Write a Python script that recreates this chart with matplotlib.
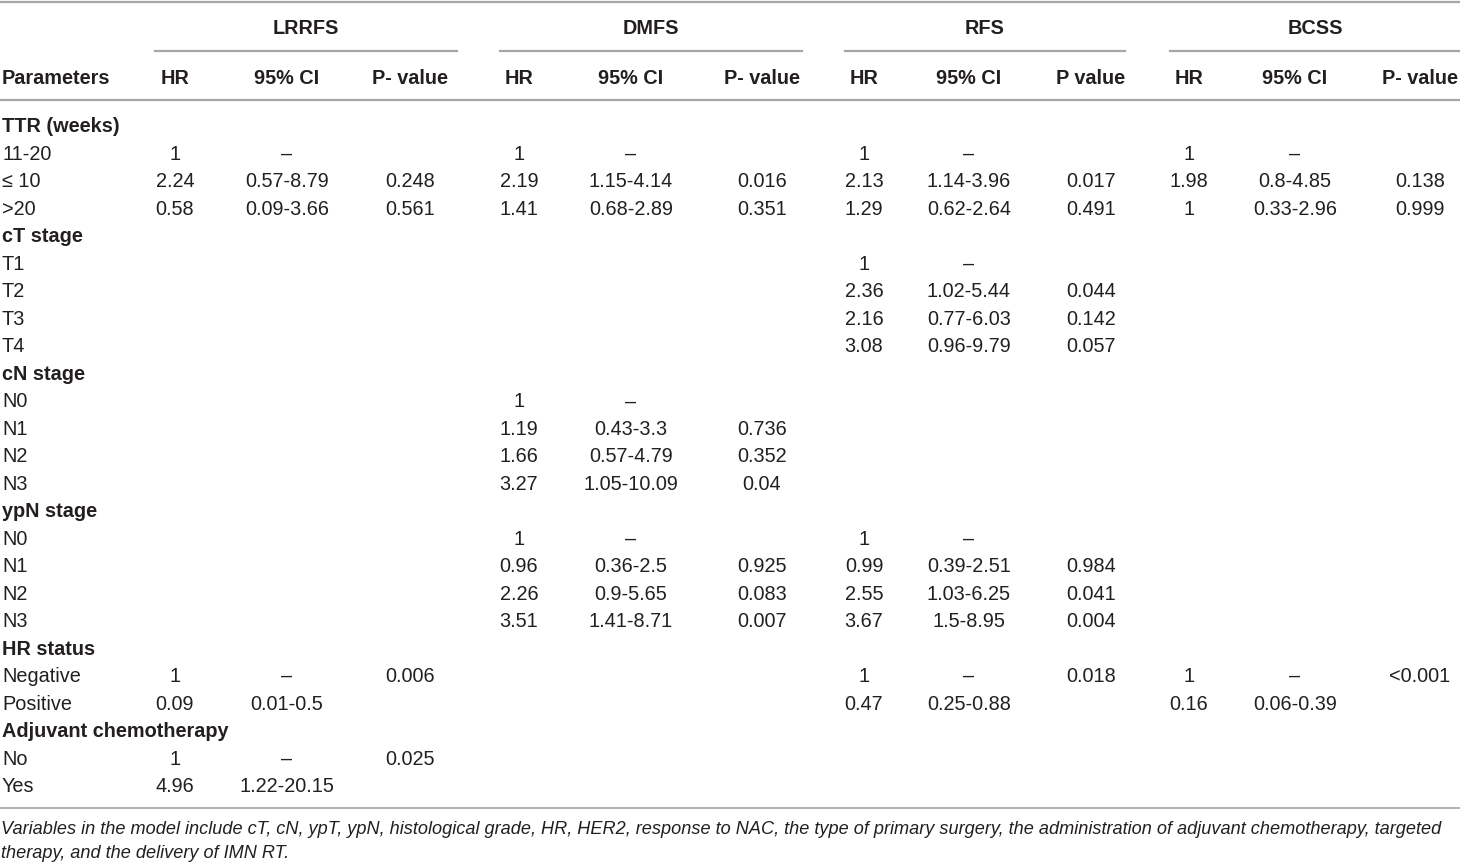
import matplotlib
matplotlib.use("Agg")
from matplotlib import pyplot as plt

plt.rcParams['font.family'] = ['Liberation Sans', 'DejaVu Sans']

# ---- table content ----
groups = ["LRRFS", "DMFS", "RFS", "BCSS"]
col_heads = {
    "LRRFS": ["HR", "95% CI", "P- value"],
    "DMFS": ["HR", "95% CI", "P- value"],
    "RFS": ["HR", "95% CI", "P value"],
    "BCSS": ["HR", "95% CI", "P- value"],
}

params = ["TTR (weeks)", "11-20", "\u2264 10", ">20",
          "cT stage", "T1", "T2", "T3", "T4",
          "cN stage", "N0", "N1", "N2", "N3",
          "ypN stage", "N0", "N1", "N2", "N3",
          "HR status", "Negative", "Positive",
          "Adjuvant chemotherapy", "No", "Yes"]
section = [1, 0, 0, 0,
           1, 0, 0, 0, 0,
           1, 0, 0, 0, 0,
           1, 0, 0, 0, 0,
           1, 0, 0,
           1, 0, 0]

D = "\u2013"
#                TTR                    cT                 cN                   ypN                  HR             Adj
lrrfs_hr = ["", "1", "2.24", "0.58", "", "", "", "", "", "", "", "", "", "", "", "", "", "", "", "", "1", "0.09", "", "1", "4.96"]
lrrfs_ci = ["", D, "0.57-8.79", "0.09-3.66", "", "", "", "", "", "", "", "", "", "", "", "", "", "", "", "", D, "0.01-0.5", "", D, "1.22-20.15"]
lrrfs_p = ["", "", "0.248", "0.561", "", "", "", "", "", "", "", "", "", "", "", "", "", "", "", "", "0.006", "", "", "0.025", ""]

dmfs_hr = ["", "1", "2.19", "1.41", "", "", "", "", "", "", "1", "1.19", "1.66", "3.27", "", "1", "0.96", "2.26", "3.51", "", "", "", "", "", ""]
dmfs_ci = ["", D, "1.15-4.14", "0.68-2.89", "", "", "", "", "", "", D, "0.43-3.3", "0.57-4.79", "1.05-10.09", "", D, "0.36-2.5", "0.9-5.65", "1.41-8.71", "", "", "", "", "", ""]
dmfs_p = ["", "", "0.016", "0.351", "", "", "", "", "", "", "", "0.736", "0.352", "0.04", "", "", "0.925", "0.083", "0.007", "", "", "", "", "", ""]

rfs_hr = ["", "1", "2.13", "1.29", "", "1", "2.36", "2.16", "3.08", "", "", "", "", "", "", "1", "0.99", "2.55", "3.67", "", "1", "0.47", "", "", ""]
rfs_ci = ["", D, "1.14-3.96", "0.62-2.64", "", D, "1.02-5.44", "0.77-6.03", "0.96-9.79", "", "", "", "", "", "", D, "0.39-2.51", "1.03-6.25", "1.5-8.95", "", D, "0.25-0.88", "", "", ""]
rfs_p = ["", "", "0.017", "0.491", "", "", "0.044", "0.142", "0.057", "", "", "", "", "", "", "", "0.984", "0.041", "0.004", "", "0.018", "", "", "", ""]

bcss_hr = ["", "1", "1.98", "1", "", "", "", "", "", "", "", "", "", "", "", "", "", "", "", "", "1", "0.16", "", "", ""]
bcss_ci = ["", D, "0.8-4.85", "0.33-2.96", "", "", "", "", "", "", "", "", "", "", "", "", "", "", "", "", D, "0.06-0.39", "", "", ""]
bcss_p = ["", "", "0.138", "0.999", "", "", "", "", "", "", "", "", "", "", "", "", "", "", "", "", "<0.001", "", "", "", ""]

values = {
    "LRRFS": [lrrfs_hr, lrrfs_ci, lrrfs_p],
    "DMFS": [dmfs_hr, dmfs_ci, dmfs_p],
    "RFS": [rfs_hr, rfs_ci, rfs_p],
    "BCSS": [bcss_hr, bcss_ci, bcss_p],
}

footnote = ["Variables in the model include cT, cN, ypT, ypN, histological grade, HR, HER2, "
            "response to NAC, the type of primary surgery, the administration of adjuvant chemotherapy, targeted",
            "therapy, and the delivery of IMN RT."]

# ---- layout (pixel coords) ----
W, H = 1460, 866
col_x = {"LRRFS": [175, 287, 410], "DMFS": [519, 631, 762],
         "RFS": [864, 969, 1091], "BCSS": [1189, 1295, 1420]}
span = {"LRRFS": (155, 457), "DMFS": (500, 802), "RFS": (845, 1125), "BCSS": (1170, 1460)}
row0, pitch = 127.0, 27.48
txt = "#231f20"
rule = "#a6a6a6"
fs = 14.3

fig = plt.figure(figsize=(W / 100, H / 100), dpi=100)
ax = fig.add_axes([0, 0, 1, 1])
ax.set_xlim(0, W)
ax.set_ylim(H, 0)
ax.axis('off')

# rules
ax.plot([0, W], [1.5, 1.5], color=rule, lw=1.6)
for g in groups:
    ax.plot(span[g], [51, 51], color=rule, lw=1.6)
ax.plot([0, W], [100, 100], color=rule, lw=1.6)
ax.plot([0, W], [808, 808], color=rule, lw=1.2)

# header
for g in groups:
    ax.text(sum(span[g]) / 2, 28, g, ha='center', va='center', fontsize=fs,
            fontweight='bold', color=txt)
    for x, h in zip(col_x[g], col_heads[g]):
        ax.text(x, 78, h, ha='center', va='center', fontsize=fs,
                fontweight='bold', color=txt)
ax.text(2, 78, "Parameters", ha='left', va='center', fontsize=fs,
        fontweight='bold', color=txt)

# body
for i, name in enumerate(params):
    y = row0 + i * pitch
    ax.text(2, y, name, ha='left', va='center', fontsize=fs, color=txt,
            fontweight='bold' if section[i] else 'normal')
    for g in groups:
        for x, col in zip(col_x[g], values[g]):
            if col[i]:
                ax.text(x, y, col[i], ha='center', va='center', fontsize=fs, color=txt)

# footnote
for k, line in enumerate(footnote):
    ax.text(1, 830 + k * 24, line, ha='left', va='center', fontsize=13.05,
            style='italic', color=txt)

plt.savefig("out.png", dpi=100)
